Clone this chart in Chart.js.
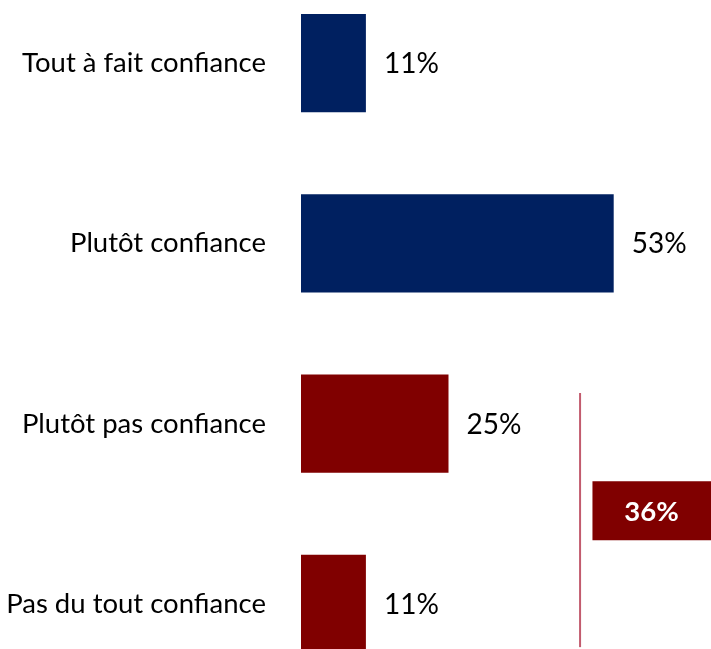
<!DOCTYPE html>
<html>
<head>
<meta charset="utf-8">
<script src="https://cdn.jsdelivr.net/npm/chart.js@4/dist/chart.umd.min.js"></script>
<style>
html,body{margin:0;padding:0;background:#fff;}
#wrap{position:relative;width:711px;height:649px;overflow:hidden;}
#c{position:absolute;left:0;top:-27px;}
</style>
</head>
<body>
<div id="wrap"><canvas id="c" width="714" height="721"></canvas></div>
<script>
const categories = ["Tout à fait confiance", "Plutôt confiance", "Plutôt pas confiance", "Pas du tout confiance"];
const values = [11, 53, 25, 11];
const barColors = ["#002060", "#002060", "#800000", "#800000"];
const groupLabel = "36%";

const FONT = "Lato, 'Open Sans', sans-serif";

const extras = {
  id: 'extras',
  afterDatasetsDraw(chart) {
    const ctx = chart.ctx;
    const meta = chart.getDatasetMeta(0);
    ctx.save();
    // value labels
    ctx.font = "28px " + FONT;
    ctx.fillStyle = "#000";
    ctx.textBaseline = "middle";
    ctx.textAlign = "left";
    meta.data.forEach((bar, i) => {
      ctx.fillText(values[i] + "%", bar.x + 18, bar.y + 1);
    });
    // bracket line
    const xs = chart.scales.x;
    const y3 = meta.data[2].y, y4 = meta.data[3].y;
    const band = y4 - y3;
    const lx = xs.getPixelForValue(47.3);
    ctx.strokeStyle = "#C25B6E";
    ctx.lineWidth = 2;
    ctx.beginPath();
    ctx.moveTo(lx, y3 - band * 0.17);
    ctx.lineTo(lx, y4 + band * 0.24);
    ctx.stroke();
    // group box
    const bx = xs.getPixelForValue(49.4);
    const cy = (y3 + y4) / 2 - 3;
    const bw = chart.width - bx;
    ctx.fillStyle = "#800000";
    ctx.fillRect(bx, cy - 29.5, bw, 59);
    ctx.fillStyle = "#fff";
    ctx.font = "bold 27.5px " + FONT;
    ctx.textAlign = "center";
    ctx.fillText(groupLabel, bx + 59, cy + 1);
    ctx.restore();
  }
};

new Chart(document.getElementById('c'), {
  type: 'bar',
  data: {
    labels: categories,
    datasets: [{
      data: values,
      backgroundColor: barColors,
      categoryPercentage: 1,
      barPercentage: 0.5437,
      borderWidth: 0
    }]
  },
  options: {
    indexAxis: 'y',
    responsive: false,
    animation: false,
    layout: { padding: 0 },
    plugins: { legend: { display: false }, tooltip: { enabled: false } },
    scales: {
      x: {
        min: 0, max: 70,
        display: false
      },
      y: {
        afterFit(s) { s.width = 301; s.paddingTop = 0; s.paddingBottom = 0; },
        grid: { display: false, drawTicks: false },
        border: { display: false },
        ticks: {
          padding: 35,
          color: "#000",
          font: { family: FONT, size: 27.5 }
        }
      }
    }
  },
  plugins: [extras]
});
</script>
</body>
</html>
